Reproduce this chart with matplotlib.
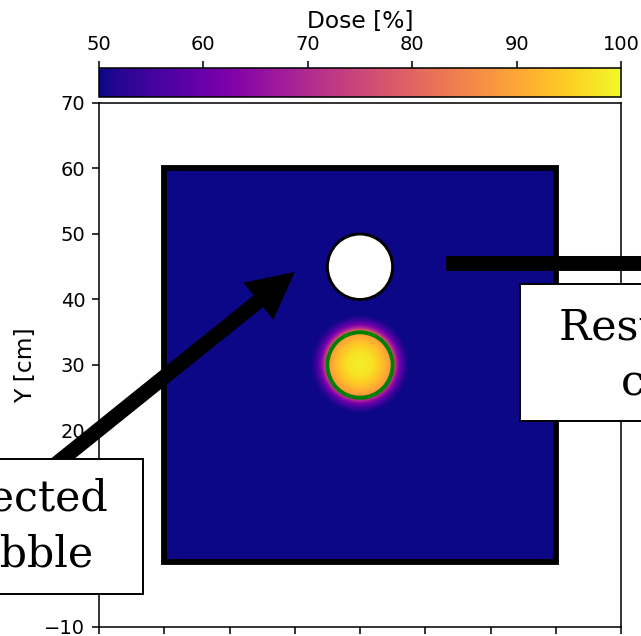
import numpy as np
import matplotlib
matplotlib.use("Agg")
import matplotlib.pyplot as plt
from matplotlib.patches import Rectangle, Circle

# ---- data ----
phantom_x = [0, 60]
phantom_y = [0, 60]
background_dose = 50.0
target_center = (30.0, 30.0)
target_radius = 5.0
profile_r = [0.0, 2.0, 3.5, 4.5, 5.0, 5.4, 6.0, 6.5, 7.0, 7.5]
profile_dose = [99.0, 97.0, 93.0, 89.0, 86.0, 72.0, 62.0, 56.0, 52.0, 50.0]
bubble_center = (30.0, 45.0)
bubble_radius = 5.0
dose_ticks = [50, 60, 70, 80, 90, 100]
y_ticks = [-10, 0, 10, 20, 30, 40, 50, 60, 70]
x_ticks = [-10, 0, 10, 20, 30, 40, 50, 60, 70]
left_label = "Injected\nbubble"
right_label = "Resulting dose\ncold spot"

# ---- dose field ----
res = 0.1
xs = np.arange(phantom_x[0] + res / 2, phantom_x[1], res)
ys = np.arange(phantom_y[0] + res / 2, phantom_y[1], res)
X, Y = np.meshgrid(xs, ys)
R = np.hypot(X - target_center[0], Y - target_center[1])
dose = np.interp(R, profile_r, profile_dose, right=background_dose)

# ---- figure ----
W, H, DPI = 641, 636, 140
fig = plt.figure(figsize=(W / DPI, H / DPI), dpi=DPI)
plt.rcParams['font.family'] = ['DejaVu Sans']

ax = fig.add_axes([99 / W, (H - 627) / H, 522 / W, 524 / H])
cax = fig.add_axes([99 / W, (H - 97) / H, 522 / W, 29 / H])

im = ax.imshow(dose, extent=[phantom_x[0], phantom_x[1], phantom_y[0], phantom_y[1]],
               origin='lower', cmap='plasma', vmin=50, vmax=100,
               interpolation='bilinear', aspect='auto', zorder=1)

ax.add_patch(Rectangle((phantom_x[0], phantom_y[0]), phantom_x[1] - phantom_x[0],
                       phantom_y[1] - phantom_y[0], fill=False, ec='black', lw=3, zorder=2))
ax.add_patch(Circle(target_center, target_radius, fill=False, ec='green', lw=2, zorder=3))
ax.add_patch(Circle(bubble_center, bubble_radius, fc='white', ec='black', lw=1.5, zorder=3))

ax.set_xlim(-10, 70)
ax.set_ylim(-10, 70)
ax.set_xticks(x_ticks)
ax.set_yticks(y_ticks)
ax.tick_params(labelsize=10, labelbottom=False)
ax.set_ylabel('Y [cm]', fontsize=12)

cb = fig.colorbar(im, cax=cax, orientation='horizontal', ticks=dose_ticks)
cax.xaxis.set_ticks_position('top')
cax.xaxis.set_label_position('top')
cb.set_label('Dose [%]', fontsize=12)
cax.tick_params(labelsize=10)

# ---- annotations ----
arrow_style = 'simple,head_length=2.4,head_width=2.45,tail_width=0.77'
ax.annotate('', xy=(20.0, 44.2), xytext=(-25.8, 7.5), xycoords='data',
            arrowprops=dict(arrowstyle=arrow_style, mutation_scale=10, fc='black',
                            ec='black', lw=0, shrinkA=0, shrinkB=0),
            annotation_clip=False, zorder=10)
ax.annotate('', xy=(100.0, 45.5), xytext=(43.2, 45.5), xycoords='data',
            arrowprops=dict(arrowstyle=arrow_style, mutation_scale=10, fc='black',
                            ec='black', lw=0, shrinkA=0, shrinkB=0),
            annotation_clip=False, zorder=10)

ax.add_patch(Rectangle((-40, -4.9), 40 - 3.26, 20.5, fc='white', ec='black', lw=1.0,
                       clip_on=False, zorder=11))
ax.add_patch(Rectangle((54.5, 21.4), 40, 20.9, fc='white', ec='black', lw=1.0,
                       clip_on=False, zorder=11))

ax.text(-8.6, 5.3, left_label, ha='right', va='center', multialignment='center',
        fontsize=22, family='DejaVu Serif', linespacing=1.4, zorder=12, clip_on=False)
ax.text(60.5, 31.5, right_label, ha='left', va='center', multialignment='center',
        fontsize=22, family='DejaVu Serif', linespacing=1.4, zorder=12, clip_on=False)

fig.savefig('out.png', dpi=DPI, facecolor='white')
